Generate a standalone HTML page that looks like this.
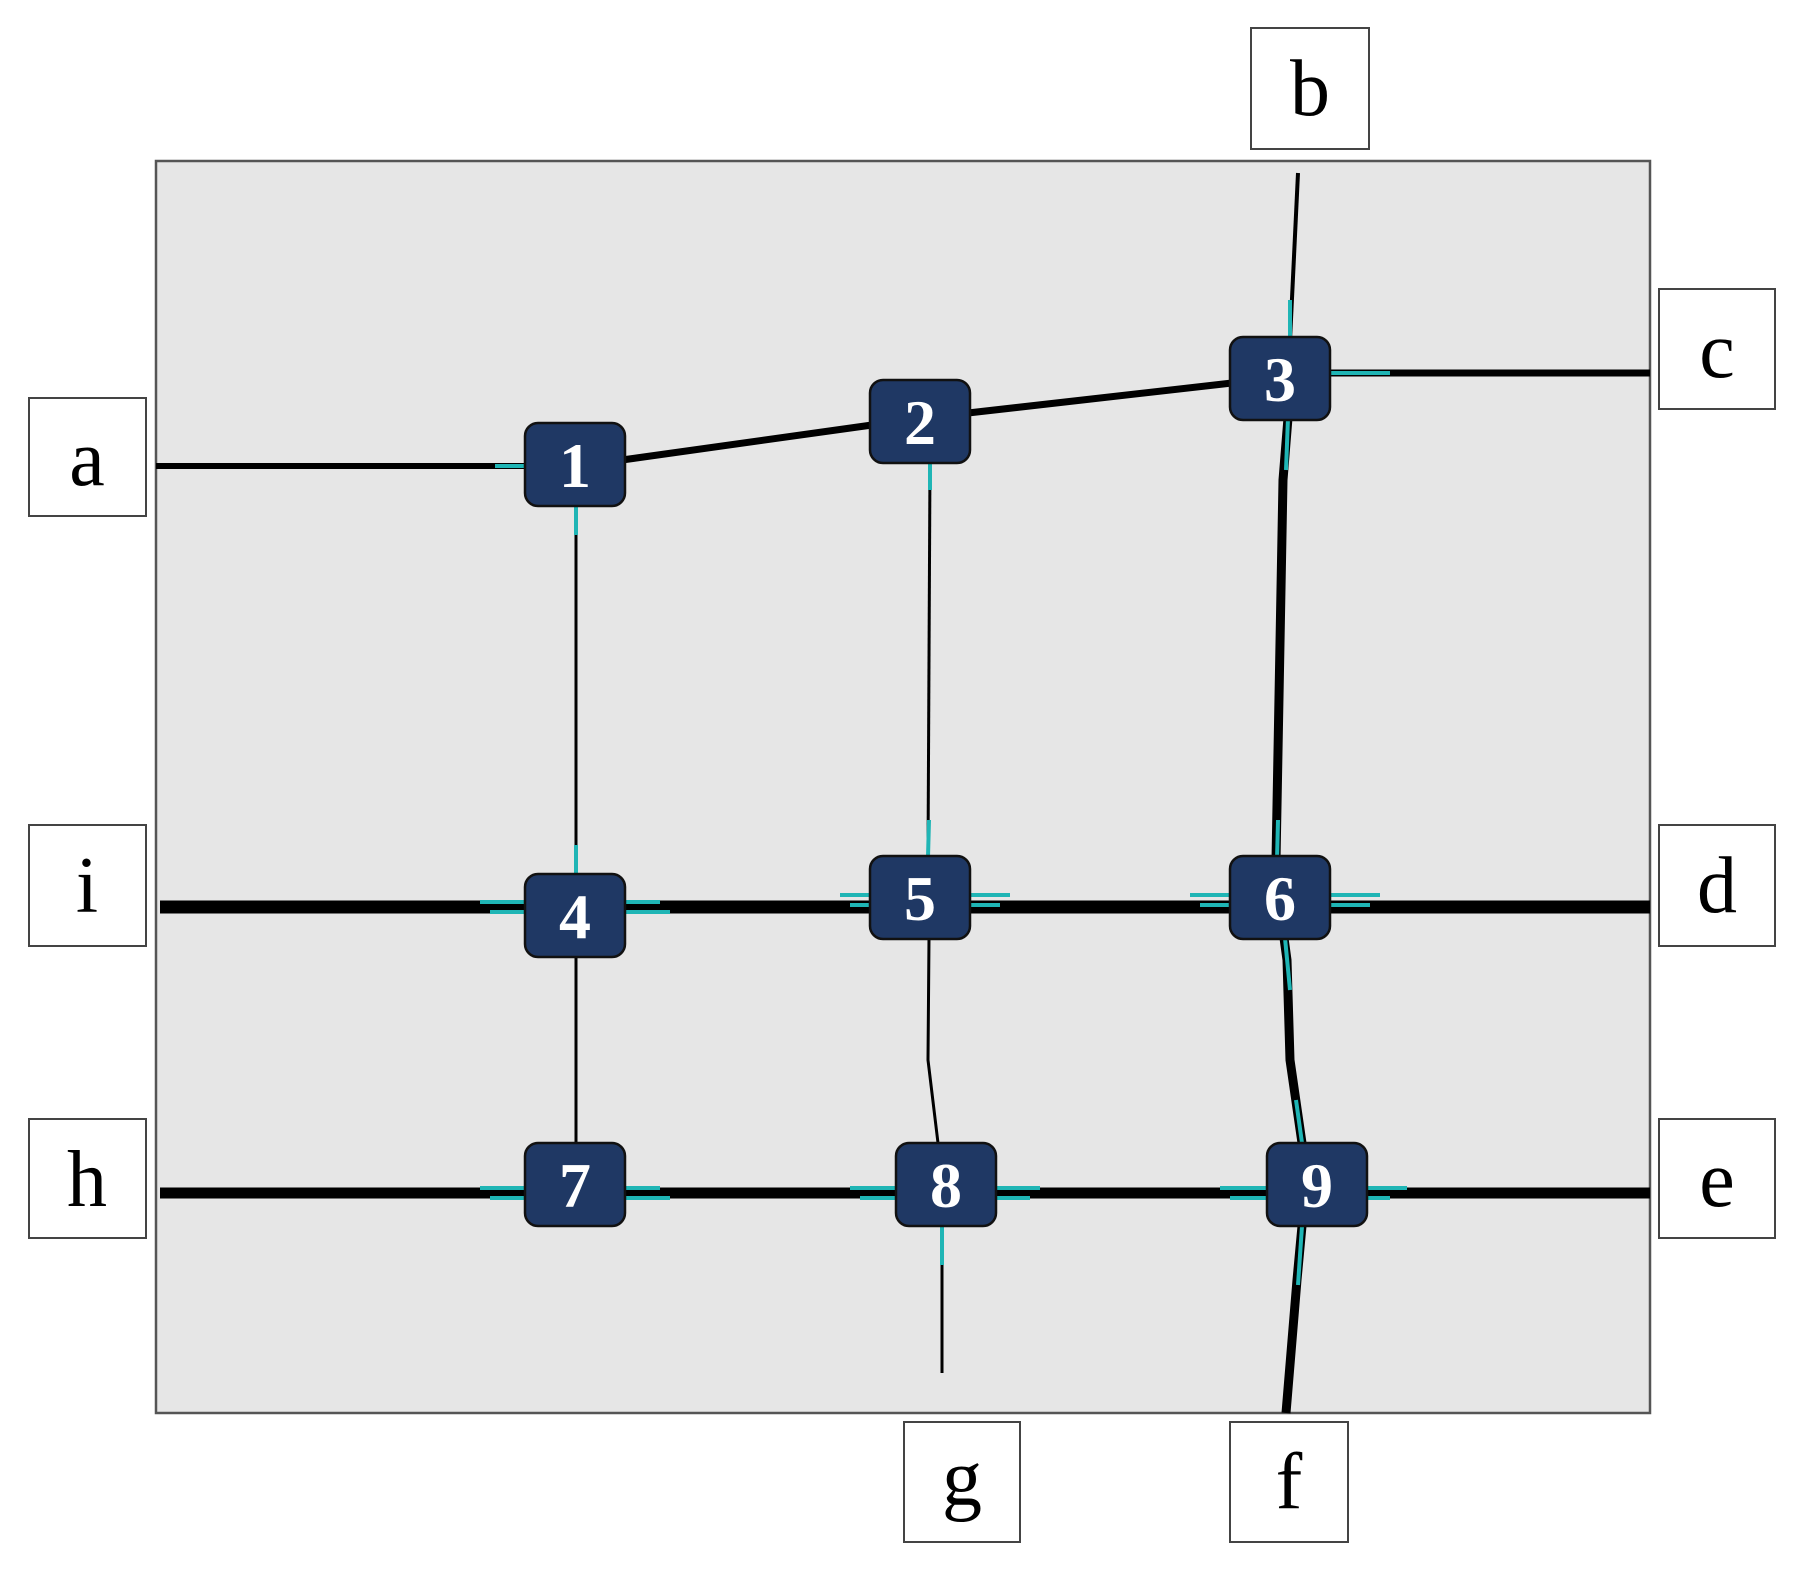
<!DOCTYPE html>
<html><head><style>
html,body{margin:0;padding:0;background:#fff;}
svg{display:block;}
</style></head><body>
<svg width="1804" height="1579" viewBox="0 0 1804 1579" xmlns="http://www.w3.org/2000/svg">
<rect x="156" y="161" width="1494" height="1252" fill="#e6e6e6" stroke="#555" stroke-width="2.5"/>
<g fill="none" stroke="#000" stroke-linecap="butt">
<line x1="156" y1="466" x2="530" y2="466" stroke-width="6"/>
<line x1="622" y1="460" x2="872" y2="425" stroke-width="7"/>
<line x1="968" y1="413" x2="1232" y2="383" stroke-width="7"/>
<line x1="1328" y1="373" x2="1650" y2="373" stroke-width="7"/>
<line x1="1298" y1="173" x2="1290" y2="340" stroke-width="4"/>
<line x1="160" y1="907" x2="1650" y2="907" stroke-width="13"/>
<line x1="160" y1="1193" x2="1650" y2="1193" stroke-width="11"/>
<line x1="576" y1="505" x2="576" y2="875" stroke-width="3"/>
<line x1="576" y1="955" x2="576" y2="1143" stroke-width="3"/>
<line x1="930" y1="462" x2="928" y2="857" stroke-width="3"/>
<path d="M929 938 L928 1060 L938 1143" stroke-width="3"/>
<line x1="942" y1="1226" x2="942" y2="1373" stroke-width="3"/>
<path d="M1288 418 L1283 480 L1276 860" stroke-width="9"/>
<path d="M1284 938 L1287 960 L1290 1060 L1302 1143" stroke-width="9"/>
<path d="M1302 1226 L1297 1280 L1286 1413" stroke-width="9"/>
</g>
<g stroke="#1fb5b5" stroke-width="4" fill="none">
<line x1="495" y1="466" x2="530" y2="466"/>
<line x1="480" y1="902" x2="660" y2="902"/><line x1="490" y1="912" x2="670" y2="912"/>
<line x1="840" y1="895" x2="1010" y2="895"/><line x1="850" y1="905" x2="1000" y2="905"/>
<line x1="1190" y1="895" x2="1380" y2="895"/><line x1="1200" y1="905" x2="1370" y2="905"/>
<line x1="480" y1="1188" x2="660" y2="1188"/><line x1="490" y1="1198" x2="670" y2="1198"/>
<line x1="850" y1="1188" x2="1040" y2="1188"/><line x1="860" y1="1198" x2="1030" y2="1198"/>
<line x1="1220" y1="1188" x2="1407" y2="1188"/><line x1="1230" y1="1198" x2="1390" y2="1198"/>
<line x1="1328" y1="373" x2="1390" y2="373"/>
<line x1="576" y1="505" x2="576" y2="535"/><line x1="576" y1="845" x2="576" y2="875"/>
<line x1="930" y1="462" x2="930" y2="490"/><line x1="929" y1="820" x2="928" y2="857"/>
<line x1="942" y1="1226" x2="942" y2="1265"/>
<line x1="1290" y1="300" x2="1290" y2="340"/><line x1="1288" y1="418" x2="1286" y2="470"/>
<line x1="1278" y1="820" x2="1277" y2="860"/>
<line x1="1285" y1="938" x2="1290" y2="990"/><line x1="1296" y1="1100" x2="1302" y2="1143"/>
<line x1="1302" y1="1226" x2="1298" y2="1285"/>
</g>
<g fill="#1f3864" stroke="#111" stroke-width="2.5">
<rect x="525" y="423" width="100" height="83" rx="13"/>
<rect x="870" y="380" width="100" height="83" rx="13"/>
<rect x="1230" y="337" width="100" height="83" rx="13"/>
<rect x="525" y="874" width="100" height="83" rx="13"/>
<rect x="870" y="856" width="100" height="83" rx="13"/>
<rect x="1230" y="856" width="100" height="83" rx="13"/>
<rect x="525" y="1143" width="100" height="83" rx="13"/>
<rect x="896" y="1143" width="100" height="83" rx="13"/>
<rect x="1267" y="1143" width="100" height="83" rx="13"/>
</g>
<g fill="#fff" font-family="Liberation Serif, serif" font-weight="bold" font-size="64" text-anchor="middle">
<text x="575" y="487">1</text><text x="920" y="444">2</text><text x="1280" y="401">3</text>
<text x="575" y="938">4</text><text x="920" y="920">5</text><text x="1280" y="920">6</text>
<text x="575" y="1207">7</text><text x="946" y="1207">8</text><text x="1317" y="1207">9</text>
</g>
<g fill="#fff" stroke="#444" stroke-width="2">
<rect x="1251" y="28" width="118" height="121"/>
<rect x="1659" y="289" width="116" height="120"/>
<rect x="29" y="398" width="117" height="118"/>
<rect x="29" y="825" width="117" height="121"/>
<rect x="1659" y="825" width="116" height="121"/>
<rect x="29" y="1119" width="117" height="119"/>
<rect x="1659" y="1119" width="116" height="119"/>
<rect x="904" y="1422" width="116" height="120"/>
<rect x="1230" y="1422" width="118" height="120"/>
</g>
<g fill="#000" font-family="Liberation Serif, serif" font-size="80" text-anchor="middle">
<text x="1310" y="115">b</text>
<text x="1717" y="377">c</text>
<text x="87" y="485">a</text>
<text x="87" y="912">i</text>
<text x="1717" y="912">d</text>
<text x="87" y="1206">h</text>
<text x="1717" y="1206">e</text>
<text x="962" y="1505">g</text>
<text x="1289" y="1508">f</text>
</g>
</svg>
</body></html>
